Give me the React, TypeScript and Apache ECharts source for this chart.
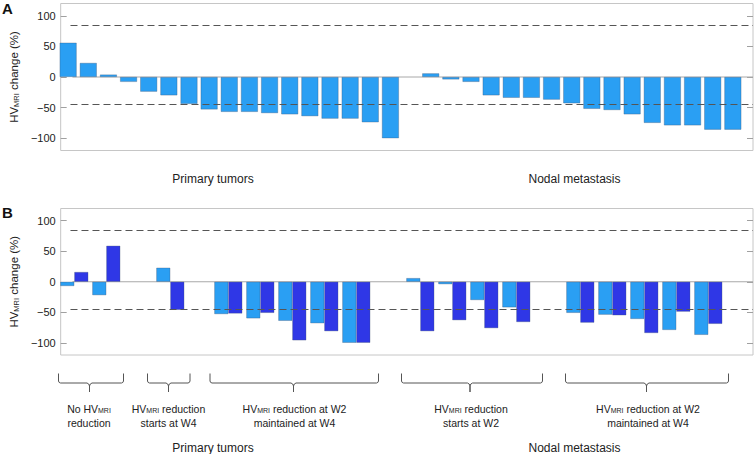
import React, { useEffect, useRef } from "react";
import * as echarts from "echarts";

// ---------- data ----------
// Panel A: HV_MRI change (%) per lesion, sorted
const primaryA: number[] = [56, 23, 4, -8, -24, -30, -44, -53, -57, -57, -59, -61, -64, -68, -68, -74, -100];
const nodalA: number[] = [6, -4, -8, -30, -34, -34, -37, -43, -52, -54, -61, -75, -79, -79, -86, -86];

// Panel B: per-group values at W2 (light) and W4 (dark)
const w2Groups: number[][] = [
  [-7, -22],
  [23],
  [-53, -60, -64, -68, -100],
  [6, -4, -30, -42],
  [-51, -54, -61, -79, -87],
];
const w4Groups: number[][] = [
  [16, 59],
  [-46],
  [-52, -51, -96, -81, -100],
  [-81, -63, -76, -66],
  [-67, -55, -84, -49, -69],
];

// thresholds (dashed lines)
const thresholds: number[] = [84, -45];
const yTicks: number[] = [-100, -50, 0, 50, 100];

const groupTitles: string[] = ["Primary tumors", "Nodal metastasis"];
// bracket labels: [line1 prefix, subscript, line1 suffix, line2]
const bracketLabels: [string, string, string, string][] = [
  ["No HV", "MRI", "", "reduction"],
  ["HV", "MRI", " reduction", "starts at W4"],
  ["HV", "MRI", " reduction at W2", "maintained at W4"],
  ["HV", "MRI", " reduction", "starts at W2"],
  ["HV", "MRI", " reduction at W2", "maintained at W4"],
];

// ---------- styles ----------
const FONT = '"Liberation Sans", Arial, Helvetica, sans-serif';
const LIGHT = "#2a9ff3";
const DARK = "#2f37e6";
const TXT = "#222";

const fmt = (v: number) => (v < 0 ? "\u2212" + Math.abs(v) : String(v));

// flatten groups into slots with one empty slot between groups
function flatten(groups: number[][]): (number | null)[] {
  const out: (number | null)[] = [];
  groups.forEach((g, gi) => {
    if (gi > 0) out.push(null);
    g.forEach((v) => out.push(v));
  });
  return out;
}

function App() {
  const ref = useRef<HTMLDivElement>(null);

  useEffect(() => {
    if (!ref.current) return;
    const chart = echarts.init(ref.current, null, { renderer: "svg" });

    // panel A: one category per lesion, one empty slot between the two groups
    const aValues: (number | null)[] = [...primaryA, null, ...nodalA];
    const aCats = aValues.map((_, i) => "A" + i);

    // panel B: two bands (first two primary groups, then the rest)
    const split = 2;
    const b1W2 = flatten(w2Groups.slice(0, split));
    const b1W4 = flatten(w4Groups.slice(0, split));
    const b2W2 = flatten(w2Groups.slice(split));
    const b2W4 = flatten(w4Groups.slice(split));
    const b1Cats = b1W2.map((_, i) => "B1_" + i);
    const b2Cats = b2W2.map((_, i) => "B2_" + i);

    const nameRich = {
      a: { fontSize: 11.5, fontFamily: FONT, color: TXT, lineHeight: 14, verticalAlign: "bottom" },
      s: { fontSize: 7.5, fontFamily: FONT, color: TXT, lineHeight: 6, verticalAlign: "bottom" },
    };

    const yLeft = (g: number) => ({
      gridIndex: g,
      type: "value",
      min: -120,
      max: 120,
      position: "left",
      splitLine: { show: false },
      axisLine: { show: false, onZero: false },
      axisTick: { show: true, inside: true, length: 6, customValues: yTicks, lineStyle: { color: "#a0a0a0" } },
      axisLabel: { customValues: yTicks, formatter: fmt, fontSize: 11, color: TXT, margin: 5, fontFamily: FONT },
      name: "{a|HV}{s|MRI}{a| change (%)}",
      nameLocation: "middle",
      nameGap: 30,
      nameRotate: 90,
      nameTextStyle: { rich: nameRich },
    });
    const yRight = (g: number) => ({
      gridIndex: g,
      type: "value",
      min: -120,
      max: 120,
      position: "right",
      splitLine: { show: false },
      axisLine: { show: false, onZero: false },
      axisTick: { show: true, inside: true, length: 6, customValues: yTicks, lineStyle: { color: "#a0a0a0" } },
      axisLabel: { show: false, customValues: yTicks },
    });
    const yHidden = (g: number) => ({ gridIndex: g, type: "value", min: -120, max: 120, show: false });

    const dashStyle = { type: [7, 4], color: "#555", width: 1 };
    const zeroStyle = { color: "#a8a8a8", width: 1 };
    // reference lines live in the outer (box) grid whose x axis runs 0..705 across the box
    const refSeries = (xi: number, yi: number) => ({
      type: "line",
      xAxisIndex: xi,
      yAxisIndex: yi,
      data: [[12, 0], [705, 0]],
      symbol: "none",
      silent: true,
      lineStyle: zeroStyle,
      z: 1,
      markLine: {
        silent: true,
        symbol: ["none", "none"],
        label: { show: false },
        lineStyle: dashStyle,
        z: 5,
        data: thresholds.map((t) => [{ coord: [10, t] }, { coord: [705, t] }]),
      },
    });

    const border = { borderColor: "rgba(60,80,110,0.55)", borderWidth: 0.6 };
    const barB = (name: string, xi: number, yi: number, data: (number | null)[], color: string) => ({
      name,
      type: "bar",
      xAxisIndex: xi,
      yAxisIndex: yi,
      data,
      barWidth: 14,
      barGap: "0%",
      itemStyle: { color, ...border },
    });

    // graphics: titles, brackets, labels
    const graphics: any[] = [];
    graphics.push({ type: "text", x: 2, y: 1, style: { text: "A", font: `bold 15px ${FONT}`, fill: "#111", verticalAlign: "top" } });
    graphics.push({ type: "text", x: 2, y: 205, style: { text: "B", font: `bold 15px ${FONT}`, fill: "#111", verticalAlign: "top" } });
    const titleX = [213, 574.5];
    groupTitles.forEach((t, i) => {
      graphics.push({ type: "text", x: titleX[i], y: 179, style: { text: t, font: `12px ${FONT}`, fill: TXT, align: "center", verticalAlign: "middle" } });
      graphics.push({ type: "text", x: titleX[i], y: 448, style: { text: t, font: `12px ${FONT}`, fill: TXT, align: "center", verticalAlign: "middle" } });
    });

    const braces: [number, number, number][] = [
      [58.5, 123.5, 89.5],
      [147.5, 190, 168.5],
      [210, 378.5, 293.5],
      [401.5, 542.5, 470],
      [565.5, 728.5, 646.5],
    ];
    const labelX = [89, 168.5, 294.5, 471, 648];
    const yTop = 373.5, yMid = 383, yBot = 392;
    braces.forEach(([x0, x1, cx]) => {
      graphics.push({
        type: "polyline",
        shape: {
          points: [
            [x0, yTop], [x0, yMid - 2], [x0 + 0.6, yMid - 0.6], [x0 + 2, yMid],
            [cx - 2.5, yMid], [cx - 0.8, yMid + 1], [cx, yMid + 3], [cx, yBot],
            [cx, yMid + 3], [cx + 0.8, yMid + 1], [cx + 2.5, yMid],
            [x1 - 2, yMid], [x1 - 0.6, yMid - 0.6], [x1, yMid - 2], [x1, yTop],
          ],
        },
        style: { stroke: "#555", lineWidth: 1, fill: null },
        silent: true,
      });
    });
    const lblRich = {
      a: { fontSize: 10.5, fontFamily: FONT, fill: TXT, color: TXT, lineHeight: 14.3, verticalAlign: "bottom" },
      s: { fontSize: 7, fontFamily: FONT, fill: TXT, color: TXT, lineHeight: 6, verticalAlign: "bottom" },
    };
    bracketLabels.forEach(([p, s, suf, l2], i) => {
      const line1 = `{a|${p}}{s|${s}}` + (suf ? `{a|${suf}}` : "");
      graphics.push({
        type: "text",
        x: labelX[i],
        y: 414,
        style: {
          text: line1 + "\n" + `{a|${l2}}`,
          rich: lblRich,
          align: "center",
          verticalAlign: "middle",
          fill: TXT,
        },
      });
    });

    const slotA = 705 / (aValues.length + 1);
    const slotB = 32;

    chart.setOption({
      animation: false,
      textStyle: { fontFamily: FONT },
      grid: [
        // outer boxes (axes, ticks, reference lines)
        { left: 48, top: 3.5, width: 705, height: 147, show: true, borderColor: "#c6c6c6", borderWidth: 1, backgroundColor: "transparent" },
        { left: 48, top: 208.5, width: 705, height: 146.5, show: true, borderColor: "#c6c6c6", borderWidth: 1, backgroundColor: "transparent" },
        // inner plotting bands for the bars
        { left: 48 + slotA / 2, top: 3.5, width: slotA * aValues.length, height: 147, show: false },
        { left: 58.3, top: 208.5, width: slotB * b1W2.length, height: 146.5, show: false },
        { left: 212.3, top: 208.5, width: slotB * b2W2.length, height: 146.5, show: false },
      ],
      xAxis: [
        { gridIndex: 0, type: "value", min: 0, max: 705, show: false },
        { gridIndex: 1, type: "value", min: 0, max: 705, show: false },
        { gridIndex: 2, type: "category", data: aCats, boundaryGap: true, show: false },
        { gridIndex: 3, type: "category", data: b1Cats, boundaryGap: true, show: false },
        { gridIndex: 4, type: "category", data: b2Cats, boundaryGap: true, show: false },
      ],
      yAxis: [yLeft(0), yRight(0), yLeft(1), yRight(1), yHidden(2), yHidden(3), yHidden(4)],
      series: [
        refSeries(0, 0),
        refSeries(1, 2),
        {
          name: "All lesions",
          type: "bar",
          xAxisIndex: 2,
          yAxisIndex: 4,
          data: aValues,
          barWidth: 17,
          itemStyle: { color: LIGHT, ...border },
        },
        barB("W2", 3, 5, b1W2, LIGHT),
        barB("W4", 3, 5, b1W4, DARK),
        barB("W2 ", 4, 6, b2W2, LIGHT),
        barB("W4 ", 4, 6, b2W4, DARK),
      ],
      graphic: graphics,
    } as any);

    return () => chart.dispose();
  }, []);

  return (
    <div
      ref={ref}
      style={{ position: "absolute", left: 0, top: 0, width: 754, height: 454, background: "#fff" }}
    />
  );
}

export default App;
